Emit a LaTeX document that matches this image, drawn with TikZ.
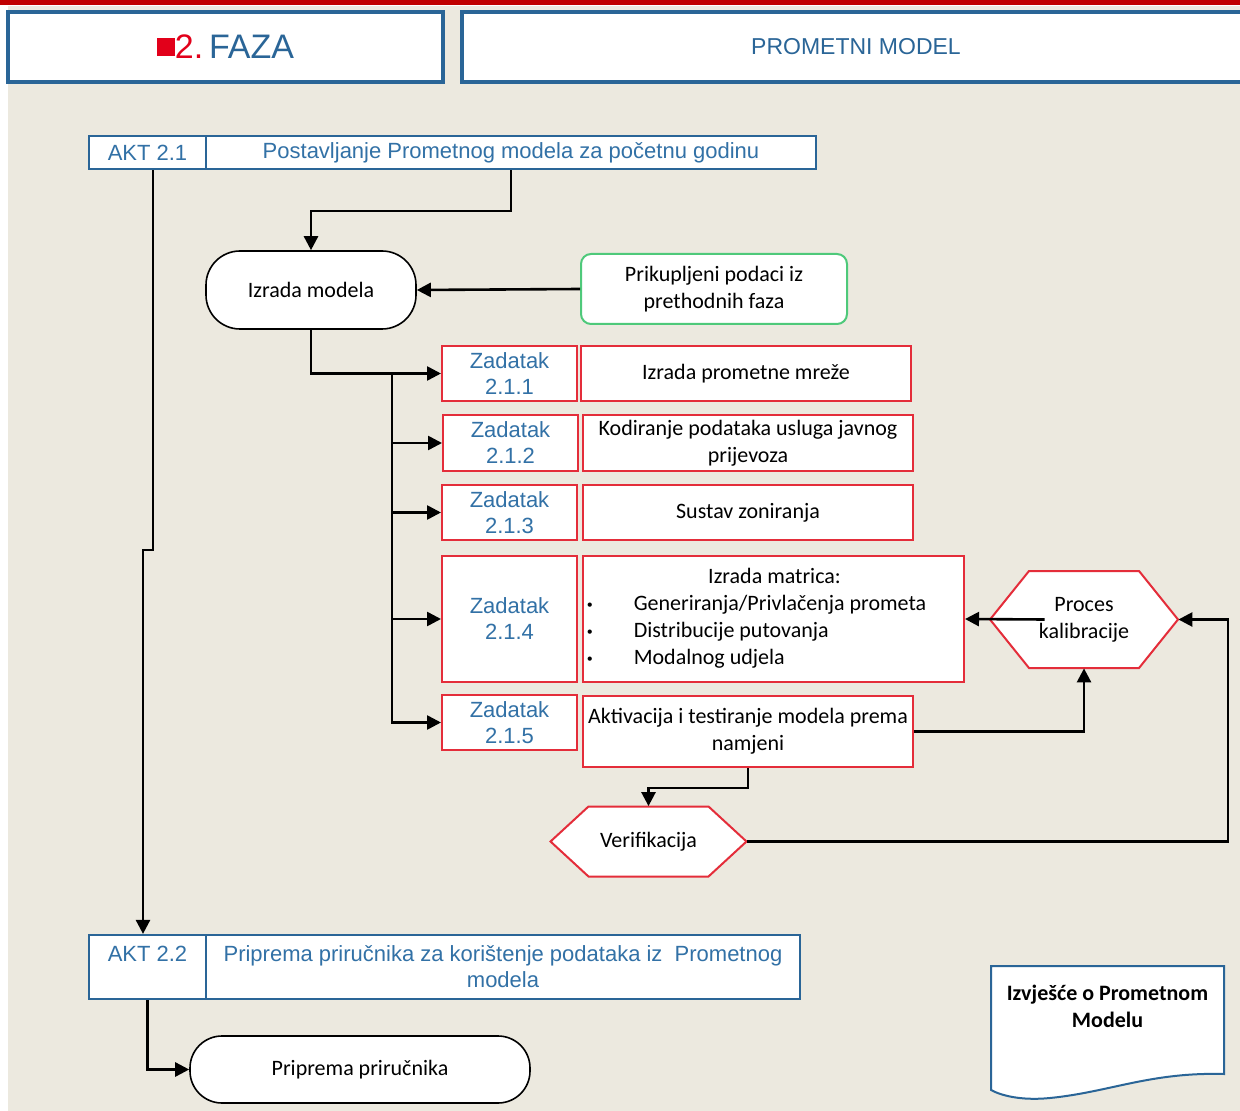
\documentclass[tikz,border=0pt]{standalone}
\usepackage{fontspec}
\setmainfont{Carlito}
\newfontfamily\arialf{Liberation Sans}
\usetikzlibrary{arrows.meta}

\definecolor{bgbeige}{HTML}{ECE9DF}
\definecolor{aktblue}{HTML}{2A6597}
\definecolor{txtblue}{HTML}{3271A6}
\definecolor{zred}{HTML}{E42D3A}
\definecolor{kgreen}{HTML}{4EC97A}
\definecolor{fazared}{HTML}{E2001A}
\definecolor{topred}{HTML}{C00000}

\newcommand\calf{\fontsize{11}{13.5}\selectfont}
\newcommand\arf{\arialf\fontsize{11}{13}\selectfont}
\newcommand\smbul{\raisebox{1pt}{\fontsize{6}{7}\selectfont\textbullet}}

\begin{document}
\begin{tikzpicture}[x=0.5pt,y=-0.5pt,
    arr/.style={line width=1.3pt, -{Triangle[length=7pt,width=7pt]}},
    hdrbox/.style={draw=aktblue, line width=1.8pt, fill=white, inner sep=0pt},
    aktbox/.style={draw=aktblue, line width=1.1pt, fill=white, inner sep=0pt, align=center, text=txtblue, font=\arf},
    zbox/.style={draw=zred, line width=1pt, fill=white, inner sep=0pt, minimum width=67.5pt, align=center, text=txtblue, font=\arf},
    dbox/.style={draw=zred, line width=1pt, fill=white, inner sep=0pt, align=center, font=\calf},
    ovalbox/.style={draw=black, line width=0.8pt, fill=white, rounded corners=17pt, font=\calf},
    hexline/.style={draw=zred, line width=1pt, fill=white},
    hextext/.style={inner sep=0pt, align=center, font=\calf}]
  \useasboundingbox (0,0) rectangle (1240,1111);
  % background and header
  \fill[white] (0,0) rectangle (1240,1111);
  \fill[bgbeige] (8,6) rectangle (1240,1111);
  \fill[topred] (0,0) rectangle (1240,5);
  \node[hdrbox, minimum width=217.5pt, minimum height=35pt] (faza) at (225.5,47)
    {\arialf\fontsize{17}{20}\selectfont{\color{fazared}\raisebox{1.5pt}{\rule{9pt}{9pt}}2.}\,\textcolor{aktblue}{FAZA}};
  \node[hdrbox, minimum width=394pt, minimum height=35pt, text=aktblue] (model) at (856,47)
    {\arialf\fontsize{11.5}{13}\selectfont PROMETNI MODEL};

  % AKT 2.1
  \node[aktbox, minimum width=58.5pt, minimum height=16.5pt] (akt1l) at (147.5,152.5) {AKT 2.1};
  \node[aktbox, minimum width=305pt, minimum height=16.5pt] (akt1t) at (511,152.5) {Postavljanje Prometnog modela za početnu godinu};

  \node[ovalbox, minimum width=105pt, minimum height=39pt] (izrada) at (311,290) {Izrada modela};
  \node[draw=kgreen, line width=1pt, fill=white, rounded corners=5pt, minimum width=133pt, minimum height=35pt, align=center, font=\calf] (prik) at (714,289) {Prikupljeni podaci iz\\prethodnih faza};

  % zadaci
  \node[zbox, minimum height=27.5pt] (z1) at (509.5,373.5) {Zadatak\\2.1.1};
  \node[dbox, minimum width=165pt, minimum height=27.5pt] (d1) at (746,373.5) {Izrada prometne mreže};
  \node[zbox, minimum height=28pt] (z2) at (510.5,443) {Zadatak\\2.1.2};
  \node[dbox, minimum width=165pt, minimum height=28pt] (d2) at (748,443) {Kodiranje podataka usluga javnog\\prijevoza};
  \node[zbox, minimum height=27.5pt] (z3) at (509.5,512.5) {Zadatak\\2.1.3};
  \node[dbox, minimum width=165pt, minimum height=27.5pt] (d3) at (748,512.5) {Sustav zoniranja};
  \node[zbox, minimum height=63pt] (z4) at (509.5,619) {Zadatak\\2.1.4};
  \node[dbox, minimum width=190.5pt, minimum height=63pt] (d4) at (773.5,619)
    {\begin{tabular}{@{}l@{\hspace{20.5pt}}l@{}}
      \multicolumn{2}{c}{\hspace*{18pt}Izrada matrica:}\\
      \smbul & Generiranja/Privlačenja prometa\\
      \smbul & Distribucije putovanja\\
      \smbul & Modalnog udjela
    \end{tabular}\hspace*{17pt}};
  \node[zbox, minimum height=27.5pt] (z5) at (509.5,722.5) {Zadatak\\2.1.5};
  \node[dbox, minimum width=165pt, minimum height=35.5pt] (d5) at (748,731.5) {Aktivacija i testiranje modela prema\\namjeni};

  % hexagons
  \path[hexline] (990,619.5) -- (1029,571) -- (1139,571) -- (1178,619.5) -- (1139,668) -- (1029,668) -- cycle;
  \node[hextext, minimum width=94pt, minimum height=48.5pt] (kal) at (1084,619.5) {Proces\\kalibracije};
  \path[hexline] (550.5,841.5) -- (588.5,806.5) -- (708.5,806.5) -- (746.5,841.5) -- (708.5,876.5) -- (588.5,876.5) -- cycle;
  \node[hextext, minimum width=98pt, minimum height=35pt] (ver) at (648.5,841.5) {Verifikacija};

  % AKT 2.2
  \node[aktbox, minimum width=58.5pt, minimum height=32pt] (akt2l) at (147.5,967) {AKT 2.2\\\mbox{}};
  \node[aktbox, minimum width=297pt, minimum height=32pt] (akt2t) at (503,967) {Priprema priručnika za korištenje podataka iz\ \ Prometnog\\modela};
  \node[ovalbox, rounded corners=16pt, minimum width=170pt, minimum height=33.5pt] (prip) at (360,1069.5) {Priprema priručnika};

  % izvjesce
  \path[draw=aktblue, line width=1pt, fill=white] (991,966) -- (1224,966) -- (1224,1074)
    .. controls (1150,1072) and (1110,1092) .. (1050,1098)
    .. controls (1020,1101) and (1000,1095) .. (991,1090) -- cycle;
  \node[anchor=north, inner sep=0pt, align=center, font=\calf\bfseries] (izv) at (1107.5,985) {Izvješće o Prometnom\\Modelu};

  % connectors
  \draw[arr] (akt1t.south) -- ++(0,41) -| (izrada.north);
  \draw[arr] (prik.west) -- (izrada.east);
  \draw[arr] (izrada.south) |- (z1.west);
  \coordinate (br) at (392,373.5);
  \foreach \z in {z2,z3,z4,z5}
    \draw[arr] (br) |- (\z.west);
  \draw[arr] ([xshift=27.5pt]kal.west) -- (d4.east);
  \draw[arr] (d5.east) -| (kal.south);
  \draw[arr] (d5.south) -- ++(0,20) -| (ver.north);
  \draw[arr] (ver.east) -- ++(481,0) |- (kal.east);
  \draw[arr] ([xshift=2.75pt]akt1l.south) -- ++(0,380) -| ([xshift=-2.25pt]akt2l.north);
  \draw[arr] (akt2l.south) |- (prip.west);
\end{tikzpicture}
\end{document}
